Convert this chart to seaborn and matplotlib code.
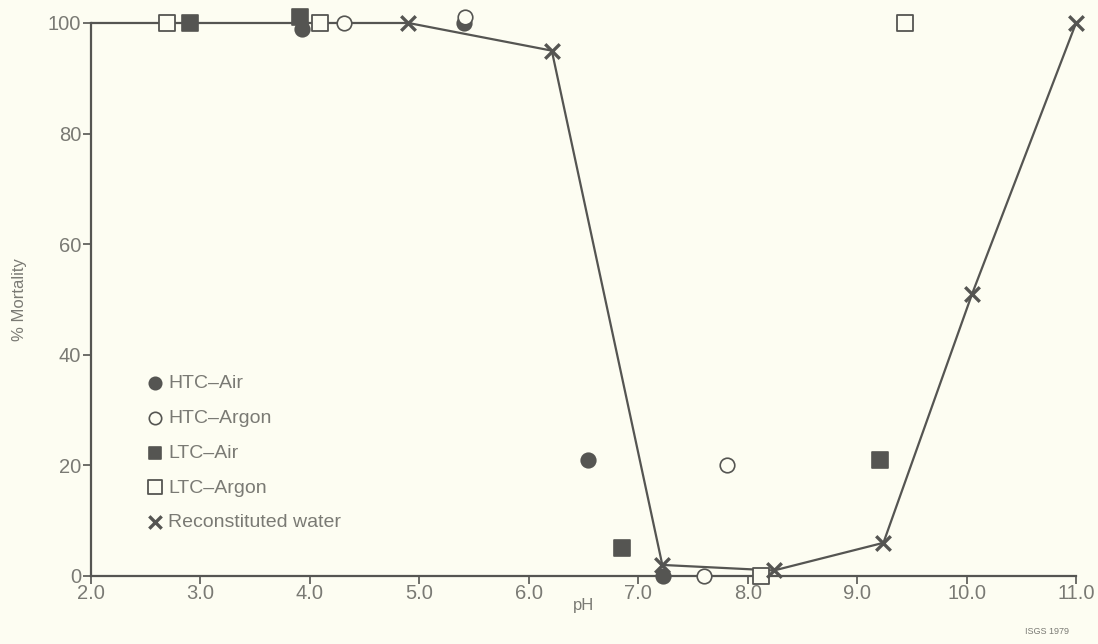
import matplotlib
matplotlib.use("Agg")
import matplotlib.pyplot as plt
import seaborn as sns
import pandas as pd

# Mortality (%) versus pH for each test medium
htc_air_ph = [3.93, 5.41, 6.54, 7.23]
htc_air_mort = [99, 100, 21, 0]

htc_argon_ph = [4.31, 5.42, 7.60, 7.81]
htc_argon_mort = [100, 101, 0, 20]

ltc_air_ph = [2.90, 3.91, 6.85, 9.21]
ltc_air_mort = [100, 101, 5, 21]

ltc_argon_ph = [2.69, 4.09, 8.12, 9.44]
ltc_argon_mort = [100, 100, 0, 100]

recon_ph = [2.0, 4.90, 6.21, 7.22, 8.24, 9.24, 10.05, 11.0]
recon_mort = [100, 100, 95, 2, 1, 6, 51, 100]

x_ticks = [2.0, 3.0, 4.0, 5.0, 6.0, 7.0, 8.0, 9.0, 10.0, 11.0]
x_labels = ["2.0", "3.0", "4.0", "5.0", "6.0", "7.0", "8.0", "9.0", "10.0", "11.0"]
y_ticks = [0, 20, 40, 60, 80, 100]

sns.set_theme(style="white")
plt.rcParams["font.family"] = ["Liberation Sans", "DejaVu Sans"]

bg = "#fdfdf2"
ink = "#555552"
txt = "#7a7a74"

fig = plt.figure(figsize=(10.98, 6.44), dpi=100, facecolor=bg)
ax = fig.add_axes([0.0829, 0.1056, 0.8971, 0.8587])
ax.set_facecolor(bg)

recon_df = pd.DataFrame({"pH": recon_ph, "mort": recon_mort})
sns.lineplot(data=recon_df, x="pH", y="mort", ax=ax, color=ink, lw=1.6,
             sort=False, legend=False, zorder=2, clip_on=False)

ms = 110
sns.scatterplot(x=htc_air_ph, y=htc_air_mort, ax=ax, marker="o", s=ms,
                color=ink, edgecolor=ink, linewidth=1.2, label="HTC\u2013Air",
                zorder=4, clip_on=False)
sns.scatterplot(x=htc_argon_ph, y=htc_argon_mort, ax=ax, marker="o", s=ms,
                facecolor=bg, edgecolor=ink, linewidth=1.2, label="HTC\u2013Argon",
                zorder=4, clip_on=False)
sns.scatterplot(x=ltc_air_ph, y=ltc_air_mort, ax=ax, marker="s", s=ms * 1.1,
                color=ink, edgecolor=ink, linewidth=1.2, label="LTC\u2013Air",
                zorder=4, clip_on=False)
sns.scatterplot(x=ltc_argon_ph, y=ltc_argon_mort, ax=ax, marker="s", s=ms * 1.3,
                facecolor=bg, edgecolor=ink, linewidth=1.3, label="LTC\u2013Argon",
                zorder=4, clip_on=False)
sns.scatterplot(x=recon_ph[1:], y=recon_mort[1:], ax=ax, marker="x", s=ms,
                color=ink, linewidth=2.4, label="Reconstituted water",
                zorder=5, clip_on=False)

ax.set_xlim(2.0, 11.0)
ax.set_ylim(0, 100)
ax.set_xticks(x_ticks)
ax.set_xticklabels(x_labels)
ax.set_yticks(y_ticks)

for side in ["top", "right"]:
    ax.spines[side].set_visible(False)
for side in ["left", "bottom"]:
    ax.spines[side].set_color(ink)
    ax.spines[side].set_linewidth(1.6)

ax.tick_params(axis="both", which="major", direction="out", length=6,
               width=1.2, color=ink, labelcolor=txt, labelsize=14.5, pad=1,
               left=True, bottom=True)
ax.tick_params(axis="x", pad=0)

ax.set_xlabel("pH", color=txt, fontsize=12, labelpad=-4)
ax.set_ylabel("% Mortality", color=txt, fontsize=12, labelpad=15)

leg = ax.legend(loc="upper left", bbox_to_anchor=(0.047, 0.378), frameon=False,
                fontsize=14, handletextpad=0.2, labelspacing=0.88,
                handlelength=1.0, borderaxespad=0, markerscale=0.85)
for t in leg.get_texts():
    t.set_color(txt)

fig.text(0.974, 0.012, "ISGS 1979", ha="right", va="bottom", fontsize=6.5,
         color=txt)

fig.savefig("out.png", dpi=100, facecolor=bg)
